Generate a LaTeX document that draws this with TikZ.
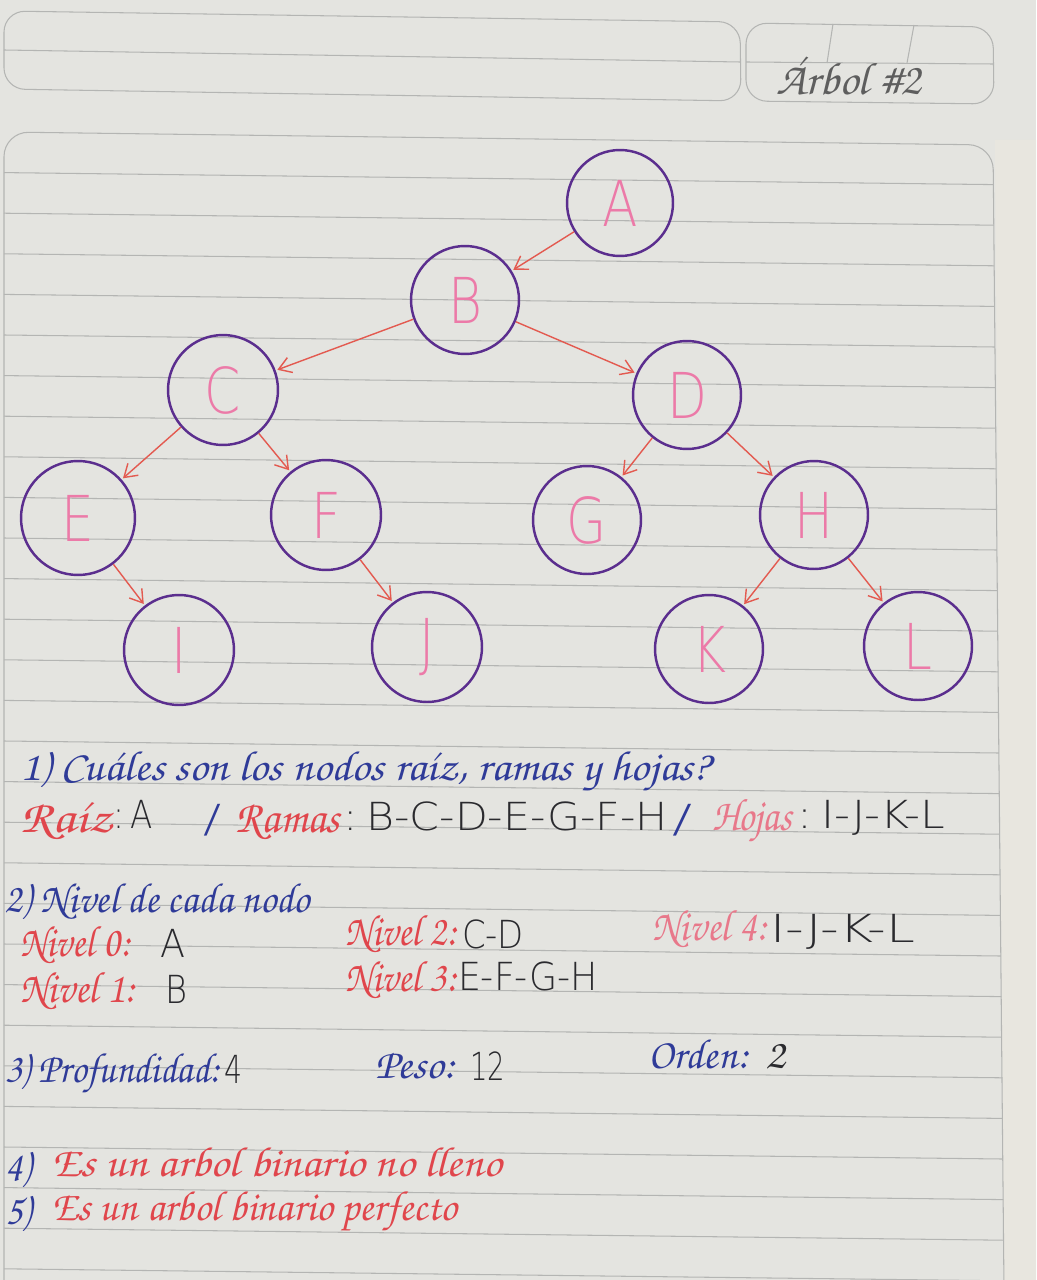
\documentclass[tikz,border=0pt]{standalone}
\usepackage[T1]{fontenc}
\usepackage{fontspec}
\usepackage{graphicx}
\usetikzlibrary{arrows.meta}

% fonts: a chancery for the cursive notes, thin sans for printed capitals
\newcommand\hand{\usefont{T1}{pzc}{mb}{it}}
\newfontfamily\capsfont[FakeStretch=0.8]{DejaVu Sans ExtraLight}
\newfontfamily\nodefont[FakeStretch=0.82]{DejaVu Sans ExtraLight}

\newlength\pxu
\setlength\pxu{0.02cm}
% fit a text to a given width (in px) keeping its height
\newcommand\fitw[2]{\resizebox{#1\pxu}{\height}{#2}}

\definecolor{paper}{HTML}{E4E4E0}
\definecolor{marginpaper}{HTML}{E8E6DF}
\definecolor{ruling}{HTML}{B4B5B3}
\definecolor{blueink}{HTML}{2F3B98}
\definecolor{redink}{HTML}{E0464C}
\definecolor{pinkink}{HTML}{E8788A}
\definecolor{blackink}{HTML}{2A2A2E}
\definecolor{circink}{HTML}{5B2E8E}
\definecolor{letterink}{HTML}{EC7AA8}
\definecolor{arrowink}{HTML}{E35A50}
\definecolor{pencil}{HTML}{5E5E5E}

\tikzset{
  rulestroke/.style={draw=ruling, line width=0.6pt},
  vertex/.style={circle, draw=circink, line width=1.4pt, inner sep=0pt,
    minimum size=#1, text=letterink, font=\nodefont\fontsize{36}{36}\selectfont},
  link/.style={draw=arrowink, line width=0.8pt,
    -{Straight Barb[length=7pt,width=9pt]}, shorten >=1pt},
  note/.style={anchor=base west, inner sep=0pt, outer sep=0pt},
  cursive/.style={note, font=\hand\fontsize{24}{24}\selectfont},
  bigcursive/.style={note, font=\hand\fontsize{26}{26}\selectfont},
  levelcursive/.style={note, font=\hand\fontsize{25}{25}\selectfont},
  printed/.style={note, text=blackink, font=\capsfont\fontsize{22}{22}\selectfont},
}

\begin{document}
\begin{tikzpicture}[x=0.02cm, y=-0.02cm]
\useasboundingbox (0,0) rectangle (1036,1280);

% sheet
\fill[paper] (0,0) rectangle (1036,1280);
\fill[marginpaper] (995,140) -- (1036,140) -- (1036,1280) -- (1004,1280) -- cycle;

% header boxes
\draw[rulestroke, rounded corners=12] (4,11) -- (740,22) -- (741,101) -- (4,89) -- cycle;
\draw[rulestroke] (4,50) -- (740,62);
\draw[rulestroke, rounded corners=12] (746,23) -- (993,27) -- (994,104) -- (746,101) -- cycle;
\draw[rulestroke] (746,62) -- (993,64);
\draw[rulestroke] (833,24) -- (827,63);
\draw[rulestroke] (914,25) -- (907,63);

% writing area with its rulings
\draw[rulestroke, rounded corners=14] (4,1290) -- (4,132) -- (993,145) -- (1004,1290);
\foreach \k in {1,...,28}{
  \pgfmathsetmacro\yl{132+40.6*\k}
  \pgfmathsetmacro\yr{\yl+12}
  \pgfmathsetmacro\xr{993+(\yr-145)*0.0097}
  \draw[rulestroke] (4,\yl) -- (\xr,\yr);
}

% title
\node[bigcursive, text=pencil] (title) at (776,95) {\fitw{145}{\'Arbol \#2}};

% the tree
\node[vertex=2.12cm] (A) at (620,203) {A};
\node[vertex=2.16cm] (B) at (465,300) {B};
\node[vertex=2.20cm] (C) at (223,390) {C};
\node[vertex=2.16cm] (D) at (687,395) {D};
\node[vertex=2.28cm] (E) at (78,518)  {E};
\node[vertex=2.20cm] (F) at (326,515) {F};
\node[vertex=2.16cm] (G) at (587,520) {G};
\node[vertex=2.16cm] (H) at (814,515) {H};
\node[vertex=2.20cm] (I) at (179,650) {I};
\node[vertex=2.20cm] (J) at (427,647) {J};
\node[vertex=2.16cm] (K) at (709,649) {K};
\node[vertex=2.16cm] (L) at (918,646) {L};

\draw[link] (A) -- (B);
\draw[link] (B) -- (C);
\draw[link] (B) -- (D);
\draw[link] (C) -- (E);
\draw[link] (C) -- (F);
\draw[link] (D) -- (G);
\draw[link] (D) -- (H);
\draw[link] (E) -- (I);
\draw[link] (F) -- (J);
\draw[link] (H) -- (K);
\draw[link] (H) -- (L);

% question 1
\node[cursive, text=blueink] (q1) at (20,780) {\fitw{690}{1) Cu\'ales son los nodos ra\'iz, ramas y hojas?}};
\node[bigcursive, text=redink] (raiz) at (20,832) {\fitw{92}{Ra\'iz}};
\node[printed] (raizv) at (113,828) {\fitw{40}{:\,A}};
\node[printed, text=blueink] (sl1) at (203,832) {\fitw{18}{/}};
\node[bigcursive, text=redink] (ramas) at (235,832) {\fitw{105}{Ramas}};
\node[printed] (ramasv) at (343,830) {\fitw{325}{:\,B-C-D-E-G-F-H}};
\node[printed, text=blueink] (sl2) at (672,832) {\fitw{20}{/}};
\node[bigcursive, text=pinkink] (hojas) at (712,830) {\fitw{80}{Hojas}};
\node[printed] (hojasv) at (797,828) {\fitw{148}{:\,I-J-K-L}};

% question 2
\node[cursive, text=blueink] (q2) at (5,912) {\fitw{305}{2) Nivel de cada nodo}};
\node[levelcursive, text=redink] (n0) at (20,956) {\fitw{110}{Nivel 0:}};
\node[printed] (n0v) at (160,957) {\fitw{25}{A}};
\node[levelcursive, text=redink] (n1) at (20,1002) {\fitw{115}{Nivel 1:}};
\node[printed] (n1v) at (165,1003) {\fitw{22}{B}};
\node[levelcursive, text=redink] (n2) at (345,945) {\fitw{112}{Nivel 2:}};
\node[printed] (n2v) at (462,948) {\fitw{62}{C-D}};
\node[levelcursive, text=redink] (n3) at (345,991) {\fitw{112}{Nivel 3:}};
\node[printed] (n3v) at (458,990) {\fitw{140}{E-F-G-H}};
\node[levelcursive, text=pinkink] (n4) at (652,940) {\fitw{115}{Nivel 4:}};
\node[printed] (n4v) at (770,942) {\fitw{145}{I-J-K-L}};

% question 3
\node[cursive, text=blueink] (q3) at (5,1082) {\fitw{215}{3) Profundidad:}};
\node[printed] (q3v) at (224,1083) {\fitw{18}{4}};
\node[cursive, text=blueink] (peso) at (375,1078) {\fitw{80}{Peso:}};
\node[printed] (pesov) at (470,1080) {\fitw{35}{12}};
\node[cursive, text=blueink] (orden) at (648,1068) {\fitw{100}{Orden:}};
\node[cursive, text=blackink] (ordenv) at (765,1068) {\fitw{20}{2}};

% questions 4 and 5
\node[cursive, text=blueink] (q4) at (5,1180) {\fitw{26}{4)}};
\node[cursive, text=redink] (q4v) at (52,1176) {\fitw{450}{Es un arbol binario no lleno}};
\node[cursive, text=blueink] (q5) at (5,1224) {\fitw{26}{5)}};
\node[cursive, text=redink] (q5v) at (52,1220) {\fitw{405}{Es un arbol binario perfecto}};
\end{tikzpicture}
\end{document}
